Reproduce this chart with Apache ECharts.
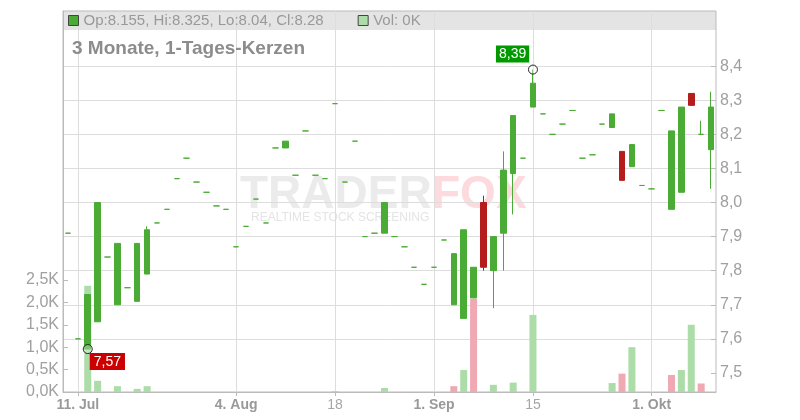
<!DOCTYPE html>
<html>
<head>
<meta charset="utf-8">
<script src="https://cdn.jsdelivr.net/npm/echarts@6/dist/echarts.min.js"></script>
<style>
  html, body { margin: 0; padding: 0; background: #fff; }
  #chart { width: 800px; height: 420px; }
</style>
</head>
<body>
<div id="chart"></div>
<script>
// trading days, 10 Jul - 9 Okt 2025
const dates = [
  '2025-07-10', '2025-07-11', '2025-07-14', '2025-07-15', '2025-07-16', '2025-07-17', '2025-07-18',
  '2025-07-21', '2025-07-22', '2025-07-23', '2025-07-24', '2025-07-25', '2025-07-28', '2025-07-29',
  '2025-07-30', '2025-07-31',
  '2025-08-01', '2025-08-04', '2025-08-05', '2025-08-06', '2025-08-07', '2025-08-08', '2025-08-11',
  '2025-08-12', '2025-08-13', '2025-08-14', '2025-08-15', '2025-08-18', '2025-08-19', '2025-08-20',
  '2025-08-21', '2025-08-22', '2025-08-25', '2025-08-26', '2025-08-27', '2025-08-28', '2025-08-29',
  '2025-09-01', '2025-09-02', '2025-09-03', '2025-09-04', '2025-09-05', '2025-09-08', '2025-09-09',
  '2025-09-10', '2025-09-11', '2025-09-12', '2025-09-15', '2025-09-16', '2025-09-17', '2025-09-18',
  '2025-09-19', '2025-09-22', '2025-09-23', '2025-09-24', '2025-09-25', '2025-09-26', '2025-09-29',
  '2025-09-30',
  '2025-10-01', '2025-10-02', '2025-10-03', '2025-10-06', '2025-10-07', '2025-10-08', '2025-10-09'
]
const opens = [
  7.91, 7.60, 7.57, 7.65, 7.84, 7.70, 7.75, 7.71, 7.79, 7.94, 7.98, 8.07, 8.13, 8.06, 8.03, 7.99,
  7.98, 7.87, 7.93, 8.01, 7.94, 8.16, 8.16, 8.08, 8.21, 8.08, 8.07, 8.29, 8.06, 8.18, 7.90, 7.91,
  7.91, 7.90, 7.87, 7.81, 7.76, 7.81, 7.89, 7.70, 7.66, 7.72, 8.00, 7.80, 7.91, 8.085, 8.13, 8.28,
  8.26, 8.20, 8.23, 8.27, 8.13, 8.14, 8.23, 8.22, 8.15, 8.105, 8.05, 8.04, 8.27, 7.98, 8.03, 8.32,
  8.20, 8.155
]
const closes = [
  7.91, 7.60, 7.73, 8.00, 7.84, 7.88, 7.75, 7.88, 7.92, 7.94, 7.98, 8.07, 8.13, 8.06, 8.03, 7.99,
  7.98, 7.87, 7.93, 8.01, 7.94, 8.16, 8.18, 8.08, 8.21, 8.08, 8.07, 8.29, 8.06, 8.18, 7.90, 7.91,
  8.00, 7.90, 7.87, 7.81, 7.76, 7.81, 7.89, 7.85, 7.92, 7.81, 7.81, 7.90, 8.095, 8.255, 8.13, 8.35,
  8.26, 8.20, 8.23, 8.27, 8.13, 8.14, 8.23, 8.26, 8.065, 8.17, 8.05, 8.04, 8.27, 8.21, 8.28, 8.285,
  8.20, 8.28
]
const lows = [
  7.91, 7.60, 7.57, 7.65, 7.84, 7.70, 7.75, 7.71, 7.79, 7.94, 7.98, 8.07, 8.13, 8.06, 8.03, 7.99,
  7.98, 7.87, 7.93, 8.01, 7.94, 8.16, 8.16, 8.08, 8.21, 8.08, 8.07, 8.29, 8.06, 8.18, 7.90, 7.91,
  7.91, 7.90, 7.87, 7.81, 7.76, 7.81, 7.89, 7.70, 7.66, 7.72, 7.80, 7.69, 7.80, 7.965, 8.13, 8.28,
  8.26, 8.20, 8.23, 8.27, 8.13, 8.14, 8.23, 8.22, 8.065, 8.105, 8.05, 8.04, 8.27, 7.98, 8.03, 8.285,
  8.20, 8.04
]
const highs = [
  7.91, 7.60, 7.73, 8.00, 7.84, 7.88, 7.75, 7.88, 7.93, 7.94, 7.98, 8.07, 8.13, 8.06, 8.03, 7.99,
  7.98, 7.87, 7.93, 8.01, 7.94, 8.16, 8.18, 8.08, 8.21, 8.08, 8.07, 8.29, 8.06, 8.18, 7.90, 7.91,
  8.00, 7.90, 7.87, 7.81, 7.76, 7.81, 7.89, 7.85, 7.92, 7.81, 8.02, 7.90, 8.15, 8.255, 8.13, 8.39,
  8.26, 8.20, 8.23, 8.27, 8.13, 8.14, 8.23, 8.26, 8.15, 8.17, 8.05, 8.04, 8.27, 8.21, 8.28, 8.32,
  8.24, 8.325
]
// volume in thousand
const volumes = [
  0, 0, 2.37, 0.25, 0, 0.13, 0, 0.07, 0.13, 0, 0, 0, 0, 0, 0, 0,
  0, 0, 0, 0, 0, 0, 0, 0, 0, 0, 0, 0.02, 0, 0, 0, 0,
  0.09, 0, 0, 0, 0, 0, 0, 0.13, 0.49, 2.08, 0, 0.16, 0, 0.21, 0, 1.72,
  0, 0, 0, 0, 0, 0, 0, 0.2, 0.41, 1.0, 0, 0, 0, 0.38, 0.49, 1.5,
  0.19, 0
]
const tickDates = ['2025-07-11', '2025-08-04', '2025-08-18', '2025-09-01', '2025-09-15', '2025-10-01']
const tickLabels = ['11. Jul', '4. Aug', '18', '1. Sep', '15', '1. Okt']
const boldTicks = [true, true, false, true, false, true]
const priceTicks = [7.5, 7.6, 7.7, 7.8, 7.9, 8.0, 8.1, 8.2, 8.3, 8.4]
const volTicks = [0, 0.5, 1.0, 1.5, 2.0, 2.5]

const green = '#4aab35'
const red = '#b51d1d'
const volUp = '#acdca8'
const volDown = '#f0a8b2'
const font = '"Liberation Sans", Arial, sans-serif'

let myChart = echarts.init(document.getElementById('chart'))

let candles = dates.map((d, i) => [opens[i], closes[i], lows[i], highs[i]])
let volData = volumes.map((v, i) => ({
  value: v,
  itemStyle: {color: i > 0 && closes[i] < closes[i - 1] ? volDown : volUp}
}))
let hiIdx = highs.indexOf(Math.max(...highs))
let loIdx = lows.indexOf(Math.min(...lows))
let last = dates.length - 1
let fmt = v => v.toFixed(2).replace('.', ',')
let isTick = (index, value) => tickDates.indexOf(value) >= 0

// split line colours, one per tick from 7.4 to 8.6
let splitColors = ['rgba(0,0,0,0)']
priceTicks.forEach(() => splitColors.push('#dddddd'))
splitColors.push('rgba(0,0,0,0)', 'rgba(0,0,0,0)')

let option = {
  animation: false,
  textStyle: {fontFamily: font},
  title: {
    text: '3 Monate, 1-Tages-Kerzen',
    left: 67,
    top: 34,
    textStyle: {fontSize: 19, fontWeight: 'bold', color: '#8c8c8c', fontFamily: font}
  },
  legend: {
    left: 68,
    top: 13,
    padding: 0,
    itemWidth: 10,
    itemHeight: 10,
    itemGap: 34,
    icon: 'rect',
    data: ['Kurs', 'Vol'],
    itemStyle: {borderColor: '#444', borderWidth: 1},
    textStyle: {color: '#999', fontSize: 15, fontFamily: font},
    formatter: name => name === 'Kurs'
      ? 'Op:' + opens[last] + ', Hi:' + highs[last] + ', Lo:' + lows[last] + ', Cl:' + closes[last]
      : 'Vol: ' + volumes[last] + 'K'
  },
  graphic: [
    {type: 'rect', silent: true, z: -10, shape: {x: 63, y: 11, width: 653, height: 19}, style: {fill: '#e4e4e4'}},
    {type: 'text', silent: true, z: -5, left: 240, top: 172, style: {text: 'TRADER', fill: '#ebebeb', font: '900 46px ' + font}},
    {type: 'text', silent: true, z: -5, left: 432, top: 172, style: {text: 'FOX', fill: '#fcdade', font: '900 46px ' + font}},
    {type: 'text', silent: true, z: -5, left: 251, top: 212, style: {text: 'REALTIME STOCK SCREENING', fill: '#e4e4e4', font: '12px ' + font}}
  ],
  grid: [
    {left: 63, right: 84, top: -2, bottom: 13, outerBoundsMode: 'none'},
    {left: 63, right: 84, top: 11, bottom: 28, outerBoundsMode: 'none', show: true, borderColor: '#bbbbbb', borderWidth: 1}
  ],
  xAxis: [
    {
      gridIndex: 0, type: 'category', data: dates, boundaryGap: true,
      axisLine: {show: false}, axisTick: {show: false}, axisLabel: {show: false}, splitLine: {show: false}
    },
    {
      gridIndex: 1, type: 'category', data: dates, boundaryGap: true,
      axisLine: {show: true, lineStyle: {color: '#bbbbbb'}},
      axisTick: {show: true, interval: isTick, alignWithLabel: true, length: 4, lineStyle: {color: '#bbbbbb'}},
      splitLine: {show: true, interval: isTick, alignWithLabel: true, lineStyle: {color: '#dddddd'}},
      axisLabel: {
        interval: isTick,
        margin: 6,
        formatter: value => {
          let k = tickDates.indexOf(value)
          return boldTicks[k] ? '{b|' + tickLabels[k] + '}' : '{n|' + tickLabels[k] + '}'
        },
        rich: {
          b: {fontWeight: 'bold', color: '#999', fontSize: 14, fontFamily: font},
          n: {color: '#a6a6a6', fontSize: 14, fontFamily: font}
        }
      }
    }
  ],
  yAxis: [
    {
      gridIndex: 0, type: 'value', position: 'right', min: 7.4, max: 8.6, interval: 0.1,
      axisLine: {show: false},
      axisTick: {show: true, inside: true, length: 5, customValues: priceTicks, lineStyle: {color: '#bbbbbb'}},
      axisLabel: {
        customValues: priceTicks,
        margin: 4,
        color: '#a0a0a0',
        fontSize: 16,
        fontFamily: font,
        formatter: v => (v > 7.45 && v < 8.45) ? v.toFixed(1).replace('.', ',') : ''
      },
      splitLine: {show: true, lineStyle: {color: splitColors}}
    },
    {
      gridIndex: 1, type: 'value', position: 'left', min: 0, max: 8.5, interval: 0.5,
      axisLine: {show: true, lineStyle: {color: '#bbbbbb'}},
      axisTick: {show: true, inside: true, length: 5, customValues: volTicks, lineStyle: {color: '#bbbbbb'}},
      axisLabel: {
        customValues: volTicks,
        margin: 4,
        color: '#a0a0a0',
        fontSize: 16,
        fontFamily: font,
        formatter: v => v <= 2.5 ? v.toFixed(1).replace('.', ',') + 'K' : ''
      },
      splitLine: {show: false}
    }
  ],
  series: [
    {
      name: 'Vol',
      type: 'bar',
      xAxisIndex: 1,
      yAxisIndex: 1,
      barWidth: 7,
      itemStyle: {color: volUp},
      data: volData
    },
    {
      name: 'Kurs',
      type: 'candlestick',
      xAxisIndex: 0,
      yAxisIndex: 0,
      barWidth: 6,
      itemStyle: {
        color: green,
        color0: red,
        borderColor: green,
        borderColor0: red,
        borderColorDoji: green,
        borderWidth: 1
      },
      markPoint: {
        symbol: 'circle',
        symbolSize: 9,
        silent: true,
        itemStyle: {color: 'rgba(255,255,255,0.3)', borderColor: '#222', borderWidth: 1},
        data: [
          {
            coord: [dates[hiIdx], highs[hiIdx]],
            label: {
              show: true, position: [-32, -19], formatter: fmt(highs[hiIdx]),
              backgroundColor: '#009a00', color: '#fff', fontSize: 14, padding: [2, 3, 1, 3], fontFamily: font
            }
          },
          {
            coord: [dates[loIdx], lows[loIdx]],
            label: {
              show: true, position: [7, 9], formatter: fmt(lows[loIdx]),
              backgroundColor: '#cc0000', color: '#fff', fontSize: 14, padding: [2, 4, 1, 4], fontFamily: font
            }
          }
        ]
      },
      data: candles
    }
  ]
}
myChart.setOption(option)
</script>
</body>
</html>
